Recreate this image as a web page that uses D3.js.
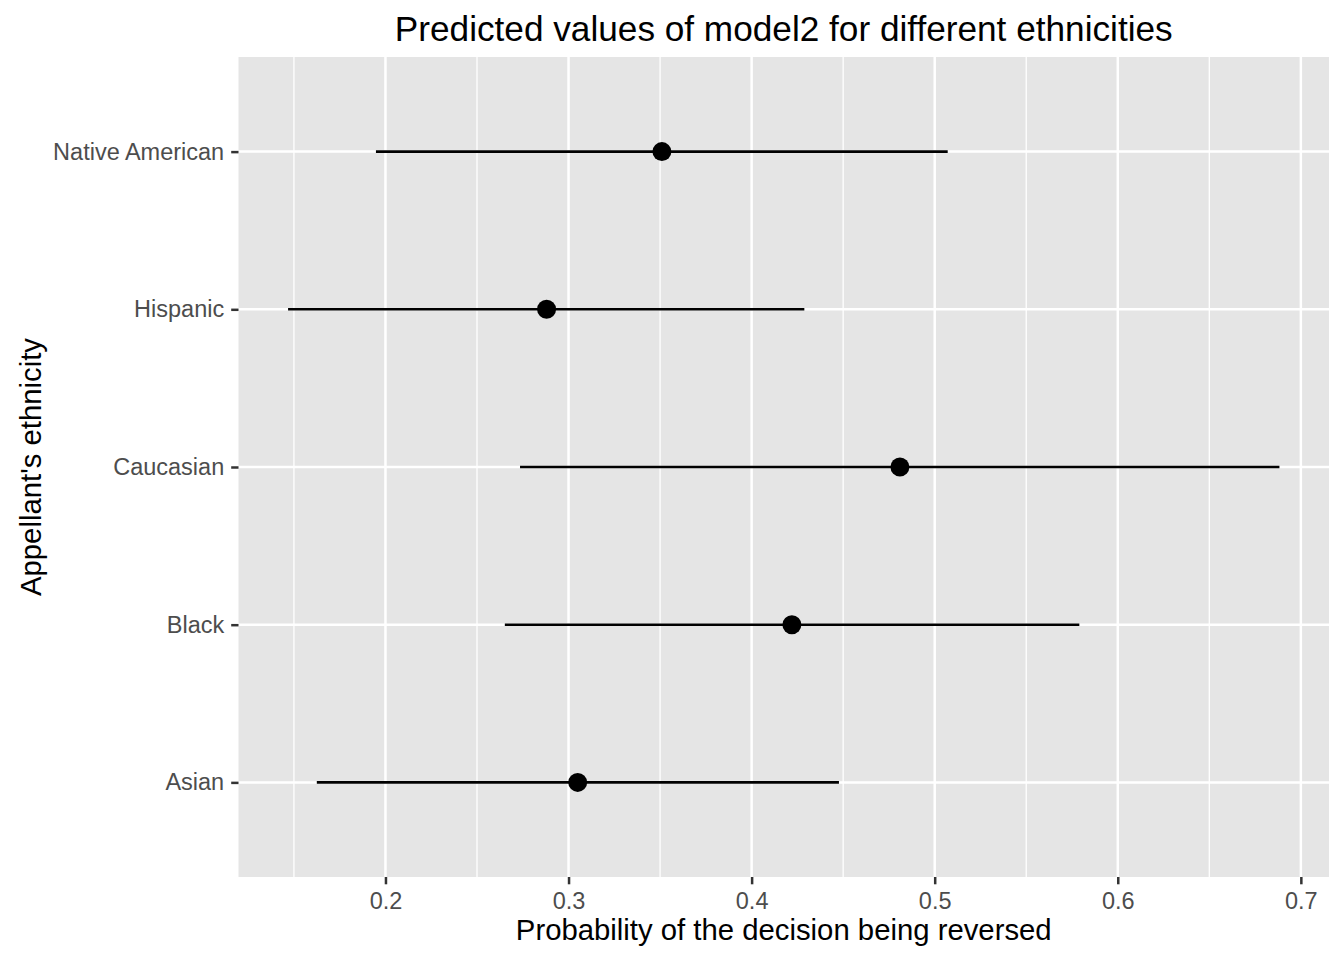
<!DOCTYPE html>
<html>
<head>
<meta charset="utf-8">
<script src="https://cdn.jsdelivr.net/npm/d3@7.9.0/dist/d3.min.js"></script>
<style>
  body { margin: 0; background: #fff; }
  svg text { font-family: "Liberation Sans", Arial, Helvetica, sans-serif; }
</style>
</head>
<body>
<svg id="chart" width="1344" height="960"></svg>
<script>
// categories, bottom to top as ggplot draws them
const ethnicities = ["Asian", "Black", "Caucasian", "Hispanic", "Native American"];
const predicted = [0.305, 0.422, 0.481, 0.288, 0.351];
const confLow = [0.1625, 0.2652, 0.2735, 0.1468, 0.1948];
const confHigh = [0.4477, 0.5790, 0.6883, 0.4288, 0.5071];
const xTicks = [0.2, 0.3, 0.4, 0.5, 0.6, 0.7];
const xMinor = [0.15, 0.25, 0.35, 0.45, 0.55, 0.65];

const rows = ethnicities.map((e, i) => ({
  label: e, est: predicted[i], lo: confLow[i], hi: confHigh[i]
}));

const panel = { left: 238.5, right: 1329, top: 57, bottom: 877 };
const svg = d3.select('#chart');

// ggplot-style 5% expansion on the continuous axis
let lo = d3.min(confLow), hi = d3.max(confHigh);
let pad = (hi - lo) * 0.05;
const x = d3.scaleLinear().domain([lo - pad, hi + pad]).range([panel.left, panel.right]);
const y = d3.scalePoint().domain(ethnicities).range([panel.bottom, panel.top]).padding(0.6);

svg.append('rect')
  .attr('x', panel.left).attr('y', panel.top)
  .attr('width', panel.right - panel.left).attr('height', panel.bottom - panel.top)
  .attr('fill', '#E5E5E5');

// grid
svg.append('g').selectAll('line').data(xMinor).join('line')
  .attr('x1', d => x(d)).attr('x2', d => x(d))
  .attr('y1', panel.top).attr('y2', panel.bottom)
  .attr('stroke', '#fff').attr('stroke-width', 1.3);
svg.append('g').selectAll('line').data(xTicks).join('line')
  .attr('x1', d => x(d)).attr('x2', d => x(d))
  .attr('y1', panel.top).attr('y2', panel.bottom)
  .attr('stroke', '#fff').attr('stroke-width', 2.5);
svg.append('g').selectAll('line').data(ethnicities).join('line')
  .attr('x1', panel.left).attr('x2', panel.right)
  .attr('y1', d => y(d)).attr('y2', d => y(d))
  .attr('stroke', '#fff').attr('stroke-width', 2.5);

// axes
let xAxis = svg.append('g')
  .attr('transform', `translate(0,${panel.bottom})`)
  .call(d3.axisBottom(x).tickValues(xTicks).tickSize(7.3).tickPadding(8).tickFormat(d3.format('.1f')));
let yAxis = svg.append('g')
  .attr('transform', `translate(${panel.left},0)`)
  .call(d3.axisLeft(y).tickSize(7.3).tickPadding(7));
[xAxis, yAxis].forEach(a => {
  a.select('.domain').remove();
  a.selectAll('.tick line').attr('stroke', '#333333').attr('stroke-width', 2.5);
  a.selectAll('.tick text').attr('fill', '#4D4D4D').style('font-size', '23.5px');
});

// pointranges
let pr = svg.append('g').selectAll('g').data(rows).join('g');
pr.append('line')
  .attr('x1', d => x(d.lo)).attr('x2', d => x(d.hi))
  .attr('y1', d => y(d.label)).attr('y2', d => y(d.label))
  .attr('stroke', '#000').attr('stroke-width', 2.6);
pr.append('circle')
  .attr('cx', d => x(d.est)).attr('cy', d => y(d.label))
  .attr('r', 9.5).attr('fill', '#000');

// titles
let midX = (panel.left + panel.right) / 2;
svg.append('text')
  .attr('x', midX).attr('y', 41)
  .attr('text-anchor', 'middle')
  .style('font-size', '35.2px')
  .text('Predicted values of model2 for different ethnicities');
svg.append('text')
  .attr('x', midX).attr('y', 940)
  .attr('text-anchor', 'middle')
  .style('font-size', '29.3px')
  .text('Probability of the decision being reversed');
svg.append('text')
  .attr('transform', `translate(41,${(panel.top + panel.bottom) / 2}) rotate(-90)`)
  .attr('text-anchor', 'middle')
  .style('font-size', '29.3px')
  .text("Appellant's ethnicity");
</script>
</body>
</html>
